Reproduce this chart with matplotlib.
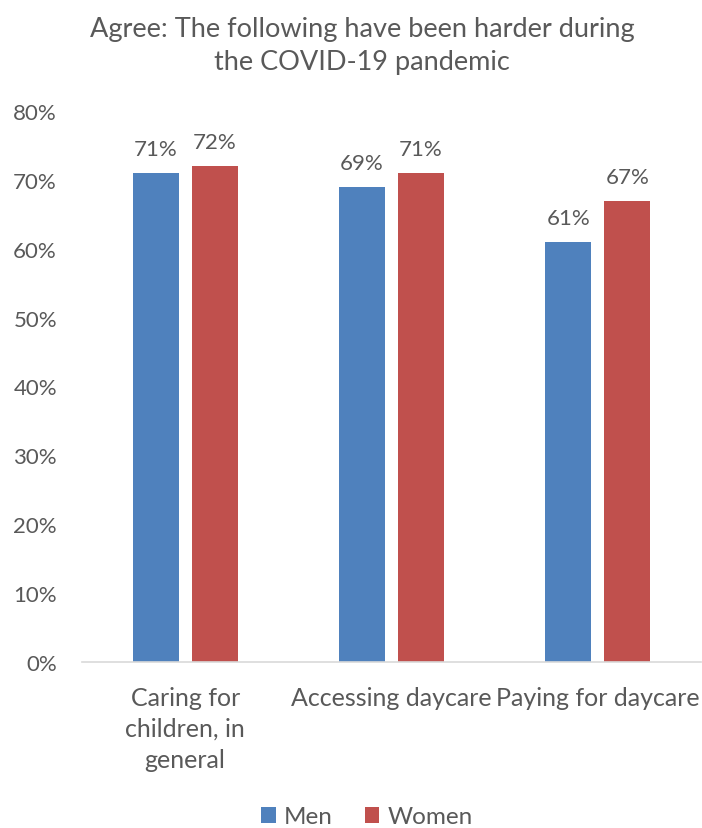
import numpy as np
import matplotlib.pyplot as plt
from matplotlib.ticker import PercentFormatter

# -- DATA -- #
categories = ["Caring for\nchildren, in\ngeneral", "Accessing daycare", "Paying for daycare"]
men   = [71, 69, 61]
women = [72, 71, 67]
series_names = ["Men", "Women"]
yticks = [0, 10, 20, 30, 40, 50, 60, 70, 80]

BLUE = "#4F81BD"
RED  = "#C0504D"
TXT  = "#595959"

plt.rcParams['font.family'] = ['Lato', 'DejaVu Sans']

fig = plt.figure(figsize=(7.02, 8.29), dpi=100)
ax = fig.add_axes([82/702, 1 - 663/829, 619/702, (663 - 112)/829])

x = np.arange(len(categories))
w = 0.222
off = 0.143

b1 = ax.bar(x - off, men, w, color=BLUE, label=series_names[0])
b2 = ax.bar(x + off, women, w, color=RED, label=series_names[1])

for bars in (b1, b2):
    for rect in bars:
        h = rect.get_height()
        ax.annotate("%d%%" % h, (rect.get_x() + rect.get_width() / 2, h),
                    xytext=(0, 10), textcoords="offset points",
                    ha="center", va="bottom", fontsize=16, color=TXT)

ax.set_xlim(-0.5, 2.5)
ax.set_ylim(0, 80)
ax.set_yticks(yticks)
ax.yaxis.set_major_formatter(PercentFormatter(decimals=0))
ax.set_xticks(x)
ax.set_xticklabels(categories, linespacing=1.42)

for s in ("top", "right", "left"):
    ax.spines[s].set_visible(False)
ax.spines["bottom"].set_color("#D9D9D9")
ax.spines["bottom"].set_linewidth(1.2)

ax.tick_params(axis="y", length=0, pad=18, labelsize=16, labelcolor=TXT)
ax.tick_params(axis="x", length=0, pad=17, labelsize=18, labelcolor=TXT)

fig.text(362/702, 1 - 46/829, "Agree: The following have been harder during\nthe COVID-19 pandemic",
         ha="center", va="center", fontsize=19.5, color=TXT, linespacing=1.4)

fig.legend(loc="center", bbox_to_anchor=(367/702, 1 - 818/829), ncol=2, frameon=False,
           fontsize=17.5, labelcolor=TXT, handlelength=0.6, handleheight=0.6,
           handletextpad=0.35, columnspacing=1.3)

fig.savefig("out.png", dpi=100)
